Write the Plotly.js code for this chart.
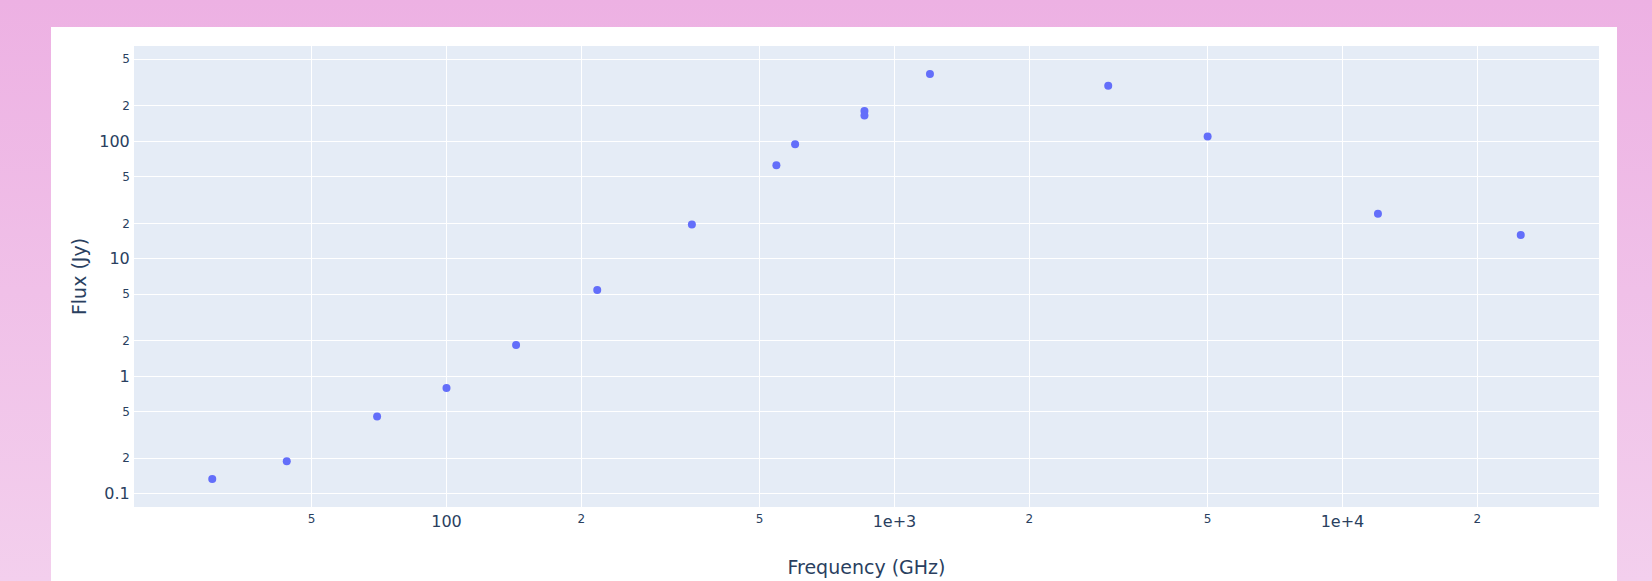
<!DOCTYPE html>
<html>
<head>
<meta charset="utf-8">
<script src="https://cdn.plot.ly/plotly-3.0.1.min.js"></script>
<style>
  html, body { margin: 0; padding: 0; width: 1652px; height: 581px; overflow: hidden;
    background: linear-gradient(to bottom, #edb1e3 0%, #f3cfed 100%); }
  #chart { position: absolute; left: 51px; top: 27px; width: 1566px; height: 560px; background: #fff; }
</style>
</head>
<body>
<div id="chart"></div>
<script>
const frequencyGHz = [30, 44, 70, 100, 143, 217, 353, 545, 600, 857, 857, 1200, 3000, 5000, 12000, 25000];
const fluxJy = [0.133, 0.188, 0.453, 0.79, 1.84, 5.4, 19.6, 62.4, 94.2, 181, 166, 374, 298, 110, 24.2, 15.9];

const trace = {
  x: frequencyGHz,
  y: fluxJy,
  type: 'scatter',
  mode: 'markers',
  marker: { color: '#636efa', size: 8 }
};

const layout = {
  width: 1566,
  height: 560,
  margin: { l: 83, r: 18, t: 19, b: 80 },
  paper_bgcolor: '#ffffff',
  plot_bgcolor: '#e5ecf6',
  font: { family: 'Verdana, "DejaVu Sans", sans-serif', size: 16, color: '#2a3f5f' },
  showlegend: false,
  xaxis: {
    type: 'log',
    exponentformat: 'e',
    title: { text: 'Frequency (GHz)', font: { size: 19 } },
    gridcolor: '#ffffff', linecolor: '#ffffff', zeroline: false,
    ticks: ''
  },
  yaxis: {
    type: 'log',
    exponentformat: 'e',
    title: { text: 'Flux (Jy)', font: { size: 19 } },
    gridcolor: '#ffffff', linecolor: '#ffffff', zeroline: false,
    ticks: ''
  }
};

Plotly.newPlot('chart', [trace], layout, { displayModeBar: false, staticPlot: true });
</script>
</body>
</html>
